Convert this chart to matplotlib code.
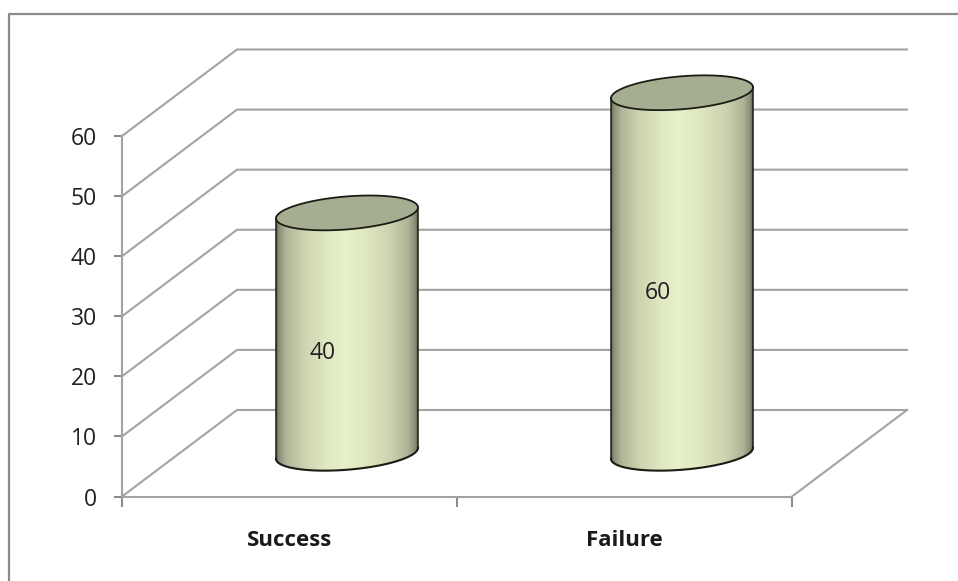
import numpy as np
import matplotlib
matplotlib.use("Agg")
import matplotlib.pyplot as plt
from matplotlib.colors import LinearSegmentedColormap
from matplotlib.lines import Line2D
from matplotlib.patches import Polygon

categories = ["Success", "Failure"]
values = [40, 60]
y_ticks = [0, 10, 20, 30, 40, 50, 60]

W, H = 958, 581
plt.rcParams["font.family"] = ["Open Sans", "DejaVu Sans"]
fig = plt.figure(figsize=(W / 100, H / 100), dpi=100, facecolor="white")

# front plane of the 3-D box
L, R, T, B = 122, 792, 136, 496.5
ax = fig.add_axes([L / W, 1 - B / H, (R - L) / W, (B - T) / H])
ax.patch.set_visible(False)

DX = 115 / (R - L) * 2        # depth shift in category units
DY = 86.5 / (B - T) * 60      # depth shift in value units
GRID = "#a3a3a3"
LW = 1.5

# outer chart frame
fig.add_artist(Line2D([8.5 / W, 8.5 / W, 1], [0, 1 - 13.5 / H, 1 - 13.5 / H],
                      color="#8c8c8c", lw=1.6))

# walls and floor
for v in y_ticks:
    ax.plot([0, DX, 2 + DX], [v, v + DY, v + DY], color=GRID, lw=LW, clip_on=False,
            solid_joinstyle="miter", zorder=1)
ax.plot([2, 2 + DX], [0, DY], color=GRID, lw=LW, clip_on=False, zorder=1)

# cylinders
cmap = LinearSegmentedColormap.from_list("cyl", [
    (0.00, "#62685a"), (0.02, "#8a9078"), (0.07, "#aeb598"), (0.20, "#ccd4b0"),
    (0.36, "#e0e9c3"), (0.48, "#e6f0c9"), (0.62, "#e0e9c3"), (0.80, "#ccd4b0"),
    (0.93, "#aeb598"), (0.98, "#8a9078"), (1.00, "#62685a")])
A = 71 / (R - L) * 2
Bv = 16.5 / (B - T) * 60
K = 5.5 / (B - T) * 60
t = np.linspace(0, 2 * np.pi, 181)


def ell_x(cx, tt):
    return cx + A * np.cos(tt)


def ell_y(cy, tt):
    return cy + K * np.cos(tt) + Bv * np.sin(tt)


grad = np.linspace(0, 1, 256)[None, :]
for i, val in enumerate(values):
    cx = i + 0.5 + DX / 2
    y0 = DY / 2
    y1 = val + DY / 2
    lower = np.linspace(np.pi, 2 * np.pi, 91)
    upper = np.linspace(0, np.pi, 91)
    xs = np.r_[ell_x(cx, lower), ell_x(cx, upper)]
    ys = np.r_[ell_y(y0, lower), ell_y(y1, upper)]
    body = Polygon(np.c_[xs, ys], closed=True, fc="none", ec="none", transform=ax.transData)
    ax.add_patch(body)
    body.set_clip_on(False)
    im = ax.imshow(grad, cmap=cmap, aspect="auto", zorder=2,
                   extent=[cx - A, cx + A, y0 - 6, y1 + 6], interpolation="bilinear")
    im.set_clip_box(fig.bbox)
    im.set_clip_path(body)
    ax.fill(ell_x(cx, t), ell_y(y1, t), fc="#a6ae92", ec="#1c1c14", lw=1.3, zorder=3,
            clip_on=False)
    ax.plot(ell_x(cx, lower), ell_y(y0, lower), color="#1c1c14", lw=1.5, zorder=3, clip_on=False)
    ax.plot([cx - A, cx - A], [ell_y(y0, np.pi), ell_y(y1, np.pi)], color="#1c1c14", lw=1.1,
            zorder=3, clip_on=False)
    ax.plot([cx + A, cx + A], [ell_y(y0, 0.0), ell_y(y1, 0.0)], color="#1c1c14", lw=1.1,
            zorder=3, clip_on=False)
    ax.text(i + 0.6, val / 2 + 3.85, str(val), ha="center", va="center", fontsize=16.5,
            color="#222222", zorder=4)

ax.set_xlim(0, 2)
ax.set_ylim(0, 60)
ax.set_yticks(y_ticks)
ax.set_xticks([0, 1, 2])
ax.set_xticklabels([])
for s in ("top", "right"):
    ax.spines[s].set_visible(False)
for s in ("left", "bottom"):
    ax.spines[s].set_color(GRID)
    ax.spines[s].set_linewidth(LW)
ax.tick_params(axis="y", length=6, width=LW, color="#8c8c8c", pad=12, labelsize=16.5,
               labelcolor="#222222")
ax.tick_params(axis="x", length=7, width=LW, color="#8c8c8c")

for i, c in enumerate(categories):
    ax.text(i + 0.5, -7.3, c, ha="center", va="center", fontsize=16, fontweight="bold",
            color="#1a1a1a")

fig.savefig("out.png", dpi=100, facecolor="white")
